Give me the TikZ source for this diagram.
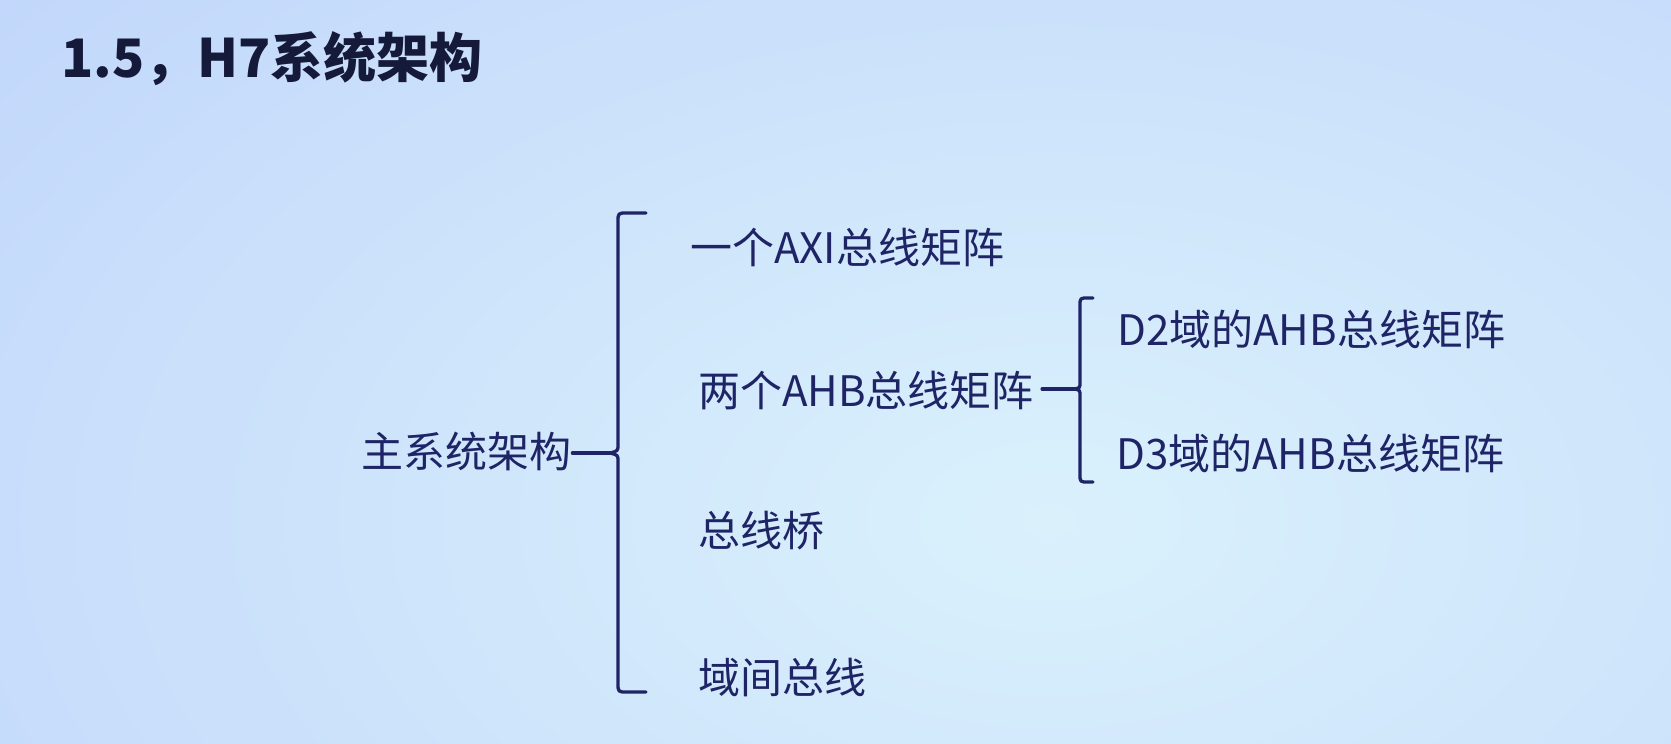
\documentclass[tikz,border=0pt]{standalone}
\usepackage{fontspec}
\setmainfont{Noto Sans CJK SC}
\definecolor{ink}{HTML}{1E2466}
\definecolor{titleink}{HTML}{15193A}
\definecolor{bgOut}{HTML}{B8CDFA}
\definecolor{bgIn}{HTML}{DAF1FC}
\begin{document}
\begin{tikzpicture}[x=1pt,y=-1pt,
  lbl/.style={anchor=west,inner sep=0pt,font=\fontsize{42}{42}\selectfont,text=ink},
  brace/.style={draw=ink,line width=3.3pt,line cap=round,line join=round}]
\begin{scope}
\clip (0,0) rectangle (1671,744);
\fill[bgOut] (0,0) rectangle (1671,744);
\shade[inner color=bgIn,outer color=bgOut] (1050,520) ellipse (1900 and 1150);
\end{scope}
\useasboundingbox (0,0) rectangle (1671,744);
% title
\node[anchor=west,inner sep=0pt,font=\fontsize{53}{53}\selectfont\bfseries,text=titleink] (title) at (61,59) {1.5，H7系统架构};
% nodes
\node[lbl] (main) at (361,451) {主系统架构};
\node[lbl] (axi) at (690,247) {一个AXI总线矩阵};
\node[lbl] (ahb) at (698,391) {两个AHB总线矩阵};
\node[lbl] (d2) at (1117,329) {D2域的AHB总线矩阵};
\node[lbl] (d3) at (1116,453) {D3域的AHB总线矩阵};
\node[lbl] (bridge) at (698,531) {总线桥};
\node[lbl] (inter) at (698,677) {域间总线};
% big bracket
\coordinate (bt) at (610,453);
\draw[brace] (646,213) -- (627,213) .. controls (618,213) .. (618,222) -- (618,444)
  .. controls (618,451) .. (bt) .. controls (618,455) .. (618,462) -- (618,683)
  .. controls (618,692) .. (627,692) -- (646,692);
\draw[brace] (main.east) ++(1,2) coordinate (ms) -- (bt);
% small bracket
\coordinate (st) at (1074,389);
\draw[brace] (1093,298) -- (1088,298) .. controls (1080,298) .. (1080,306) -- (1080,382)
  .. controls (1080,388) .. (st) .. controls (1080,390) .. (1080,396) -- (1080,474)
  .. controls (1080,482) .. (1088,482) -- (1093,482);
\draw[brace] (ahb.east) ++(8,-2) coordinate (as) -- (st);
\end{tikzpicture}
\end{document}
